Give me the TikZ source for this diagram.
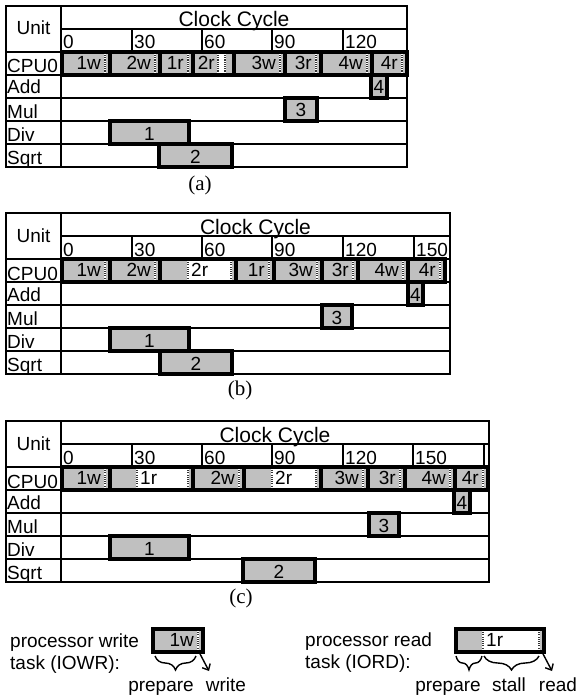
\documentclass[tikz,border=0pt]{standalone}
\usepackage{fontspec}
\setmainfont{Liberation Sans}
\newfontfamily\capfont{Liberation Serif}
\usetikzlibrary{arrows.meta,decorations.pathreplacing}

\definecolor{taskgray}{RGB}{192,192,192}

% dotted write/read mark inside a task box: x, top of row
\newcommand{\iostripe}[2]{%
  \draw[stripebase] ({#1},{#2+2}) -- ({#1},{#2+21});
  \draw[stripedots] ({#1},{#2+2}) -- ({#1},{#2+21});
}
% write task (or read task without stall): name, x1, x2, top, label
\newcommand{\wtask}[5]{%
  \draw[task] (#2,#4) rectangle (#3,{#4+23});
  \iostripe{#3-5}{#4}
  \node[tasktext, anchor=base east] (#1) at ({#3-9},{#4+17.5}) {#5};
}
% read task with stall: name, x1, end of prepare, x2, top, label
\newcommand{\rtask}[6]{%
  \draw[task] (#2,#5) rectangle (#4,{#5+23});
  \fill[white] (#3,{#5+2}) rectangle ({#4-5},{#5+21});
  \iostripe{#3}{#5}
  \iostripe{#4-5}{#5}
  \node[tasktext, anchor=base west] (#1) at ({#3+3},{#5+17.5}) {#6};
}
% busy interval of a functional unit: name, x1, x2, top, label
\newcommand{\ubox}[5]{%
  \draw[task] (#2,#4) rectangle (#3,{#4+23});
  \node[anchor=base] (#1) at ({(#2+#3)/2},{#4+19}) {#5};
}
% empty schedule table: prefix, right edge
\newcommand{\unitframe}[2]{%
  \draw[grid] (61,29) -- (#2,29);
  \foreach \y in {52,75,98,121,144} \draw[grid] (6,\y) -- (#2,\y);
  \draw[grid] (61,6) -- (61,167);
  \draw[frame] (6,6) rectangle (#2,167);
  \node[anchor=base] (#1unit) at (33.5,35) {Unit};
  \node[titletext] (#1title) at ({(61+#2)/2},27) {Clock Cycle};
  \node[rowtext] (#1cpu) at (7,73) {CPU0};
  \node[rowtext] (#1add) at (7,94) {Add};
  \node[rowtext] (#1mul) at (7,118) {Mul};
  \node[rowtext] (#1div) at (7,141) {Div};
  \node[rowtext] (#1sqrt) at (7,164) {Sqrt};
  \node[rowtext] (#1t0) at (63,49) {0};
}

\begin{document}
\begin{tikzpicture}[x=1pt, y=-1pt,
    every node/.style={inner sep=0pt, font=\fontsize{19}{22}\selectfont},
    frame/.style={line width=2pt},
    grid/.style={line width=1.5pt},
    task/.style={draw, line width=4pt, fill=taskgray},
    stripebase/.style={line width=2.6pt, black!80},
    stripedots/.style={line width=2.6pt, white, dash pattern=on 1.1pt off 1.1pt},
    tasktext/.style={},
    rowtext/.style={anchor=base west},
    ticktext/.style={anchor=base west},
    titletext/.style={anchor=base, font=\fontsize{21}{24}\selectfont},
    caption/.style={anchor=base, font=\capfont\fontsize{21}{24}\selectfont},
    legtext/.style={font=\fontsize{19}{22}\selectfont},
    brace/.style={decorate, decoration={brace, mirror, amplitude=14pt}, line width=1.4pt},
    ioarrow/.style={-{Straight Barb[length=5pt, width=9pt]}, line width=1.4pt},
  ]
  \useasboundingbox (0,0) rectangle (578,698);

  % (a)
  \unitframe{a}{407}
  \foreach \t/\x in {30/132, 60/202, 90/272, 120/343} {
    \draw[grid] (\x,29) -- (\x,52);
    \node[ticktext] (a\t) at (\x+2,49) {\t};
  }
  \wtask{a1w}{62}{110}{52}{1w}
  \wtask{a2w}{110}{160}{52}{2w}
  \wtask{a1r}{160}{193}{52}{1r}
  \draw[task] (193,52) rectangle (234,75);
  \fill[white] (218,54) rectangle (225,73);
  \iostripe{218}{52}
  \iostripe{225}{52}
  \node[tasktext, anchor=base east] (a2r) at (215,69.5) {2r};
  \wtask{a3w}{234}{285}{52}{3w}
  \wtask{a3r}{285}{321}{52}{3r}
  \wtask{a4w}{321}{372}{52}{4w}
  \wtask{a4r}{372}{407}{52}{4r}
  \ubox{a4}{371}{387}{75}{4}
  \ubox{a3}{285}{317}{98}{3}
  \ubox{a1}{110}{189}{121}{1}
  \ubox{a2}{159}{232}{144}{2}
  \node[caption] (capa) at (200,190) {(a)};

  % (b)
  \begin{scope}[yshift=-207pt]
    \unitframe{b}{450}
    \foreach \t/\x in {30/132, 60/202, 90/272, 120/343, 150/414} {
      \draw[grid] (\x,29) -- (\x,52);
      \node[ticktext] (b\t) at (\x+2,49) {\t};
    }
    \wtask{b1w}{62}{110}{52}{1w}
    \wtask{b2w}{110}{160}{52}{2w}
    \rtask{b2r}{160}{188}{236}{52}{2r}
    \wtask{b1r}{236}{274}{52}{1r}
    \wtask{b3w}{274}{322}{52}{3w}
    \wtask{b3r}{322}{358}{52}{3r}
    \wtask{b4w}{358}{408}{52}{4w}
    \wtask{b4r}{408}{445}{52}{4r}
    \ubox{b4}{408}{423}{75}{4}
    \ubox{b3}{322}{352}{98}{3}
    \ubox{b1}{110}{189}{121}{1}
    \ubox{b2}{160}{232}{144}{2}
    \node[caption] (capb) at (240,188) {(b)};
  \end{scope}

  % (c)
  \begin{scope}[yshift=-415pt]
    \unitframe{c}{489}
    \foreach \t/\x in {30/132, 60/202, 90/272, 120/343, 150/413} {
      \draw[grid] (\x,29) -- (\x,52);
      \node[ticktext] (c\t) at (\x+2,49) {\t};
    }
    \draw[grid] (484,29) -- (484,52);
    \wtask{c1w}{62}{110}{52}{1w}
    \rtask{c1r}{110}{137}{193}{52}{1r}
    \wtask{c2w}{193}{244}{52}{2w}
    \rtask{c2r}{244}{272}{321}{52}{2r}
    \wtask{c3w}{321}{368}{52}{3w}
    \wtask{c3r}{368}{405}{52}{3r}
    \wtask{c4w}{405}{455}{52}{4w}
    \wtask{c4r}{455}{488}{52}{4r}
    \ubox{c4}{454}{470}{75}{4}
    \ubox{c3}{369}{399}{98}{3}
    \ubox{c1}{110}{189}{121}{1}
    \ubox{c2}{243}{315}{144}{2}
    \node[caption] (capc) at (241,188) {(c)};
  \end{scope}

  % legend: write task
  \node[legtext, anchor=base west] (wrl1) at (10,647) {processor write};
  \node[legtext, anchor=base west] (wrl2) at (10,669) {task (IOWR):};
  \wtask{lw}{153}{203}{629}{1w}
  \draw[brace] (155,656) -- (196,656);
  \coordinate (wra) at (199,652);
  \coordinate (wrb) at (209,671);
  \draw[ioarrow] (wra) -- (wrb);
  \node[legtext, anchor=base] (wrprep) at (161,691) {prepare};
  \node[legtext, anchor=base] (wrwrite) at (226,691) {write};

  % legend: read task
  \node[legtext, anchor=base west] (rdl1) at (305,646) {processor read};
  \node[legtext, anchor=base west] (rdl2) at (305,668) {task (IORD):};
  \rtask{lr}{456}{483}{544}{629}{1r}
  \draw[brace] (456,656) -- (482,656);
  \draw[brace] (484,656) -- (539,656);
  \coordinate (rda) at (542,652);
  \coordinate (rdb) at (552,671);
  \draw[ioarrow] (rda) -- (rdb);
  \node[legtext, anchor=base] (rdprep) at (448,691) {prepare};
  \node[legtext, anchor=base] (rdstall) at (509,691) {stall};
  \node[legtext, anchor=base] (rdread) at (558,691) {read};
\end{tikzpicture}
\end{document}
